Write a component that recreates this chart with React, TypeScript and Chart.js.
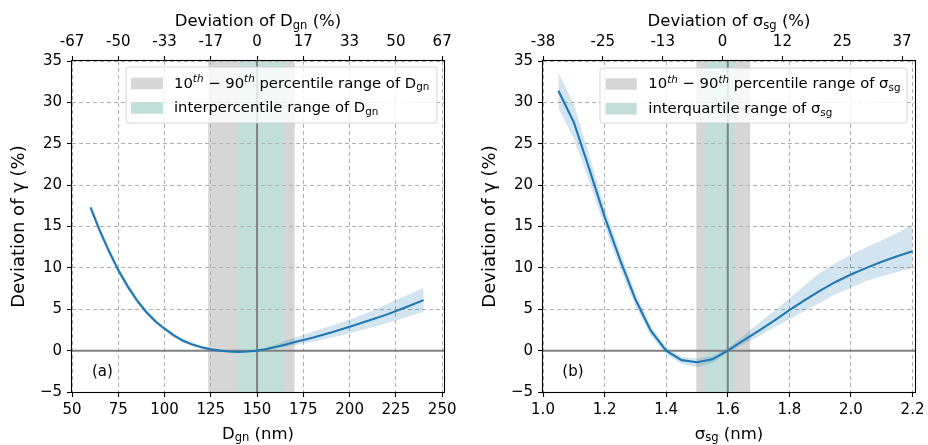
import React, { useEffect, useRef } from 'react';
import { Chart, registerables } from 'chart.js';

Chart.register(...registerables);

const FONT = '"DejaVu Sans", "Liberation Sans", sans-serif';
const FS_TICK = 15;
const FS_LEGEND = 14.8;
const FS_XTITLE = 16.5;
const FS_YTITLE = 18;

// ---------- Panel (a): D_gn ----------
const D_GN = [60, 65, 70, 75, 80, 85, 90, 95, 100, 105, 110, 115, 120, 125, 130, 135, 140, 145, 150, 155, 160, 165, 170, 175, 180, 190, 200, 210, 220, 230, 240];
const GAMMA_A = [17.3, 14.5, 12.0, 9.75, 7.8, 6.1, 4.7, 3.55, 2.65, 1.85, 1.2, 0.75, 0.4, 0.15, 0.0, -0.1, -0.15, -0.1, 0.0, 0.2, 0.45, 0.7, 1.0, 1.28, 1.55, 2.2, 2.9, 3.6, 4.35, 5.2, 6.1];
const GAMMA_A_UPPER = [17.85, 14.95, 12.45, 10.15, 8.2, 6.45, 5.0, 3.85, 2.9, 2.1, 1.45, 0.95, 0.6, 0.32, 0.15, 0.05, 0.0, 0.0, 0.05, 0.35, 0.75, 1.15, 1.55, 1.9, 2.3, 3.0, 3.75, 4.6, 5.6, 6.6, 7.6];
const GAMMA_A_LOWER = [16.8, 14.05, 11.55, 9.35, 7.4, 5.75, 4.4, 3.25, 2.4, 1.6, 0.95, 0.55, 0.2, 0.0, -0.15, -0.25, -0.3, -0.2, -0.05, 0.08, 0.3, 0.45, 0.65, 0.85, 1.05, 1.55, 2.1, 2.7, 3.3, 4.0, 4.7];
const D_TICKS = [50, 75, 100, 125, 150, 175, 200, 225, 250];
const D_LIMITS = [50, 251];
const D_DEV_TICKS = [-66.667, -50, -33.333, -16.667, 0, 16.667, 33.333, 50, 66.667];
const D_DEV_LABELS = ['-67', '-50', '-33', '-17', '0', '17', '33', '50', '67'];
const D_DEV_LIMITS = [-66.667, 67.333];
const D_P10_P90 = [123.6, 170.3];
const D_INTERPERCENTILE = [139.6, 164.4];
const D_REF = 150;

// ---------- Panel (b): sigma_sg ----------
const SIGMA_SG = [1.05, 1.1, 1.15, 1.2, 1.25, 1.3, 1.35, 1.4, 1.45, 1.5, 1.55, 1.6, 1.65, 1.7, 1.75, 1.8, 1.85, 1.9, 1.95, 2.0, 2.05, 2.1, 2.15, 2.2];
const GAMMA_B = [31.4, 27.6, 22.0, 16.2, 11.0, 6.2, 2.4, 0.0, -1.15, -1.4, -1.05, 0.0, 1.2, 2.4, 3.6, 4.9, 6.1, 7.25, 8.3, 9.2, 10.0, 10.75, 11.4, 12.0];
const GAMMA_B_UPPER = [33.6, 29.8, 23.6, 17.4, 12.0, 7.0, 3.0, 0.4, -0.75, -0.95, -0.65, 0.3, 1.8, 3.3, 4.8, 6.3, 7.9, 9.4, 10.6, 11.6, 12.5, 13.3, 14.2, 15.2];
const GAMMA_B_LOWER = [29.3, 25.6, 20.4, 15.0, 10.0, 5.4, 1.8, -0.5, -1.6, -2.0, -1.5, -0.25, 0.75, 1.7, 2.8, 3.8, 4.8, 5.8, 6.8, 7.6, 8.4, 9.0, 9.5, 10.0];
const SIGMA_TICKS = [1.0, 1.2, 1.4, 1.6, 1.8, 2.0, 2.2];
const SIGMA_LIMITS = [1.0, 2.208];
const SIGMA_DEV_TICKS = [-37.5, -25, -12.5, 0, 12.5, 25, 37.5];
const SIGMA_DEV_LABELS = ['-38', '-25', '-13', '0', '12', '25', '37'];
const SIGMA_DEV_LIMITS = [-37.5, 40.2];
const SIGMA_P10_P90 = [1.498, 1.673];
const SIGMA_IQR = [1.528, 1.623];
const SIGMA_REF = 1.6;

// ---------- shared y ----------
const Y_TICKS = [-5, 0, 5, 10, 15, 20, 25, 30, 35];
const Y_LIMITS = [-5, 35];

const BLUE = '#1f77b4';
const BAND = 'rgba(31,119,180,0.2)';
const GRAY_SPAN = 'rgb(214,214,214)';
const TEAL_SPAN = 'rgb(193,223,216)';
const GRID = '#b0b0b0';
const REF_LINE = '#808080';

type Seg = { t: string; k?: 'sup' | 'sub'; it?: boolean };

function segFont(s: Seg, size: number) {
  const sz = s.k ? size * 0.7 : size;
  return `${s.it ? 'italic ' : ''}${sz}px ${FONT}`;
}
function richWidth(ctx: CanvasRenderingContext2D, segs: Seg[], size: number) {
  let w = 0;
  for (const s of segs) {
    ctx.font = segFont(s, size);
    w += ctx.measureText(s.t).width;
  }
  return w;
}
function drawRich(ctx: CanvasRenderingContext2D, segs: Seg[], x: number, y: number, size: number, align: 'left' | 'center') {
  const w = richWidth(ctx, segs, size);
  let cx = align === 'center' ? x - w / 2 : x;
  ctx.textAlign = 'left';
  ctx.textBaseline = 'alphabetic';
  ctx.fillStyle = '#000';
  for (const s of segs) {
    ctx.font = segFont(s, size);
    const dy = s.k === 'sup' ? -0.37 * size : s.k === 'sub' ? 0.16 * size : 0;
    ctx.fillText(s.t, cx, y + dy);
    cx += ctx.measureText(s.t).width;
  }
}

interface PanelCfg {
  left: number;
  yAxisWidth: number;
  padRight: number;
  xs: number[];
  mean: number[];
  upper: number[];
  lower: number[];
  xTicks: number[];
  xLimits: number[];
  xFmt: (v: number) => string;
  topTicks: number[];
  topLabels: string[];
  topLimits: number[];
  outer: number[];
  inner: number[];
  ref: number;
  sym: string;
  sub: string;
  innerName: string;
  yTitleX: number;
  legend: { x: number; y: number; w: number; h: number; px: number; pw: number; ph: number; rows: number[]; tx: number; base: number[] };
  label: string;
  labelX: number;
}

const PANELS: PanelCfg[] = [
  {
    left: 0,
    yAxisWidth: 72,
    padRight: 20,
    xs: D_GN,
    mean: GAMMA_A,
    upper: GAMMA_A_UPPER,
    lower: GAMMA_A_LOWER,
    xTicks: D_TICKS,
    xLimits: D_LIMITS,
    xFmt: (v) => String(v),
    topTicks: D_DEV_TICKS,
    topLabels: D_DEV_LABELS,
    topLimits: D_DEV_LIMITS,
    outer: D_P10_P90,
    inner: D_INTERPERCENTILE,
    ref: D_REF,
    sym: 'D',
    sub: 'gn',
    innerName: 'interpercentile',
    yTitleX: 24,
    legend: { x: 126, y: 67, w: 311, h: 56, px: 131, pw: 32, ph: 11.6, rows: [83.5, 108], tx: 174, base: [87.5, 112.3] },
    label: '(a)',
    labelX: 92,
  },
  {
    left: 464,
    yAxisWidth: 79,
    padRight: 13,
    xs: SIGMA_SG,
    mean: GAMMA_B,
    upper: GAMMA_B_UPPER,
    lower: GAMMA_B_LOWER,
    xTicks: SIGMA_TICKS,
    xLimits: SIGMA_LIMITS,
    xFmt: (v) => v.toFixed(1),
    topTicks: SIGMA_DEV_TICKS,
    topLabels: SIGMA_DEV_LABELS,
    topLimits: SIGMA_DEV_LIMITS,
    outer: SIGMA_P10_P90,
    inner: SIGMA_IQR,
    ref: SIGMA_REF,
    sym: 'σ',
    sub: 'sg',
    innerName: 'interquartile',
    yTitleX: 31,
    legend: { x: 136, y: 68, w: 307, h: 55, px: 141.7, pw: 31, ph: 11.6, rows: [84, 108.8], tx: 184.3, base: [88.3, 113.3] },
    label: '(b)',
    labelX: 98.3,
  },
];

function Panel({ cfg }: { cfg: PanelCfg }) {
  const ref = useRef<HTMLCanvasElement>(null);

  useEffect(() => {
    const c = cfg;
    const pts = (ys: number[]) => c.xs.map((x, i) => ({ x, y: ys[i] }));
    const font = { family: FONT, size: FS_TICK };

    const decor = {
      id: 'decor',
      beforeDraw(chart: any) {
        const { ctx, chartArea: a, scales } = chart;
        const x = scales.x;
        ctx.save();
        const span = (r: number[], col: string) => {
          const x1 = x.getPixelForValue(r[0]);
          const x2 = x.getPixelForValue(r[1]);
          ctx.fillStyle = col;
          ctx.fillRect(x1, a.top, x2 - x1, a.bottom - a.top);
        };
        span(c.outer, GRAY_SPAN);
        span(c.inner, TEAL_SPAN);
        ctx.restore();
      },
      afterDatasetsDraw(chart: any) {
        const { ctx, chartArea: a } = chart;
        ctx.save();
        ctx.strokeStyle = '#000';
        ctx.lineWidth = 1.1;
        ctx.strokeRect(a.left - 0.5, a.top - 0.5, a.right - a.left + 1, a.bottom - a.top + 1);
        ctx.restore();
      },
      afterDraw(chart: any) {
        const { ctx, chartArea: a } = chart;
        ctx.save();
        const cx = (a.left + a.right) / 2;
        drawRich(ctx, [{ t: c.sym }, { t: c.sub, k: 'sub' }, { t: ' (nm)' }], cx, 438.5, FS_XTITLE, 'center');
        drawRich(ctx, [{ t: 'Deviation of ' + c.sym }, { t: c.sub, k: 'sub' }, { t: ' (%)' }], cx, 26, FS_XTITLE, 'center');
        ctx.save();
        ctx.translate(c.yTitleX, (a.top + a.bottom) / 2);
        ctx.rotate(-Math.PI / 2);
        drawRich(ctx, [{ t: 'Deviation of γ (%)' }], 0, 0, FS_YTITLE, 'center');
        ctx.restore();
        drawRich(ctx, [{ t: c.label }], c.labelX, 376, FS_TICK, 'left');
        const L = c.legend;
        const r = 3;
        ctx.beginPath();
        ctx.moveTo(L.x + r, L.y);
        ctx.lineTo(L.x + L.w - r, L.y);
        ctx.arcTo(L.x + L.w, L.y, L.x + L.w, L.y + r, r);
        ctx.lineTo(L.x + L.w, L.y + L.h - r);
        ctx.arcTo(L.x + L.w, L.y + L.h, L.x + L.w - r, L.y + L.h, r);
        ctx.lineTo(L.x + r, L.y + L.h);
        ctx.arcTo(L.x, L.y + L.h, L.x, L.y + L.h - r, r);
        ctx.lineTo(L.x, L.y + r);
        ctx.arcTo(L.x, L.y, L.x + r, L.y, r);
        ctx.closePath();
        ctx.fillStyle = 'rgba(255,255,255,0.8)';
        ctx.fill();
        ctx.strokeStyle = 'rgba(204,204,204,0.8)';
        ctx.lineWidth = 1;
        ctx.stroke();
        ctx.fillStyle = GRAY_SPAN;
        ctx.fillRect(L.px, L.rows[0] - L.ph / 2, L.pw, L.ph);
        ctx.fillStyle = TEAL_SPAN;
        ctx.fillRect(L.px, L.rows[1] - L.ph / 2, L.pw, L.ph);
        drawRich(
          ctx,
          [
            { t: '10' },
            { t: 'th', k: 'sup', it: true },
            { t: ' − 90' },
            { t: 'th', k: 'sup', it: true },
            { t: ' percentile range of ' + c.sym },
            { t: c.sub, k: 'sub' },
          ],
          L.tx,
          L.base[0],
          FS_LEGEND,
          'left'
        );
        drawRich(ctx, [{ t: c.innerName + ' range of ' + c.sym }, { t: c.sub, k: 'sub' }], L.tx, L.base[1], FS_LEGEND, 'left');
        ctx.restore();
      },
    };

    const chart = new Chart(ref.current as HTMLCanvasElement, {
      type: 'scatter',
      data: {
        datasets: [
          { data: pts(c.mean), borderColor: BLUE, borderWidth: 2.1, showLine: true, pointRadius: 0, tension: 0, order: 0 } as any,
          {
            data: [
              { x: c.xLimits[0], y: 0 },
              { x: c.xLimits[1], y: 0 },
            ],
            borderColor: REF_LINE,
            borderWidth: 2,
            showLine: true,
            pointRadius: 0,
            order: 1,
          },
          {
            data: [
              { x: c.ref, y: Y_LIMITS[0] },
              { x: c.ref, y: Y_LIMITS[1] },
            ],
            borderColor: REF_LINE,
            borderWidth: 2,
            showLine: true,
            pointRadius: 0,
            order: 1,
          },
          { data: pts(c.upper), borderColor: 'transparent', borderWidth: 1, showLine: true, pointRadius: 0, fill: false, order: 3 },
          { data: pts(c.lower), borderColor: 'transparent', borderWidth: 1, showLine: true, pointRadius: 0, fill: 3, backgroundColor: BAND, order: 2 } as any,
        ],
      },
      options: {
        animation: false,
        responsive: false,
        events: [],
        layout: { padding: { left: 0, right: c.padRight, top: 0, bottom: 0 } },
        plugins: { legend: { display: false }, tooltip: { enabled: false } },
        scales: {
          x: {
            type: 'linear',
            position: 'bottom',
            min: c.xLimits[0],
            max: c.xLimits[1],
            afterBuildTicks: (s: any) => {
              s.ticks = c.xTicks.map((v) => ({ value: v }));
            },
            afterFit: (s: any) => {
              s.height = 53;
              s.paddingLeft = 0;
              s.paddingRight = 0;
            },
            ticks: { callback: (v: any) => c.xFmt(Number(v)), font, color: '#000', padding: 4, maxRotation: 0, autoSkip: false },
            grid: { color: GRID, lineWidth: 1, tickColor: '#000', tickLength: 5, tickWidth: 1.1 },
            border: { display: false, dash: [4, 3] },
          },
          x2: {
            type: 'linear',
            position: 'top',
            min: c.topLimits[0],
            max: c.topLimits[1],
            afterBuildTicks: (s: any) => {
              s.ticks = c.topTicks.map((v) => ({ value: v }));
            },
            afterFit: (s: any) => {
              s.height = 61;
              s.paddingLeft = 0;
              s.paddingRight = 0;
            },
            ticks: { callback: (_v: any, i: number) => c.topLabels[i], font, color: '#000', padding: 5, maxRotation: 0, autoSkip: false },
            grid: { drawOnChartArea: false, tickColor: '#000', tickLength: 5, tickWidth: 1.1 },
            border: { display: false },
          },
          y: {
            type: 'linear',
            position: 'left',
            min: Y_LIMITS[0],
            max: Y_LIMITS[1],
            afterBuildTicks: (s: any) => {
              s.ticks = Y_TICKS.map((v) => ({ value: v }));
            },
            afterFit: (s: any) => {
              s.width = c.yAxisWidth;
              s.paddingTop = 0;
              s.paddingBottom = 0;
            },
            ticks: {
              callback: (v: any) => (Number(v) < 0 ? '\u2212' + Math.abs(Number(v)) : String(v)),
              font,
              color: '#000',
              padding: 5,
              autoSkip: false,
            },
            grid: { color: GRID, lineWidth: 1, tickColor: '#000', tickLength: 5, tickWidth: 1.1 },
            border: { display: false, dash: [4, 3] },
          },
        },
      } as any,
      plugins: [decor],
    });
    return () => chart.destroy();
  }, [cfg]);

  return (
    <canvas
      ref={ref}
      width={464}
      height={445}
      style={{ position: 'absolute', left: cfg.left, top: 0, width: 464, height: 445 }}
    />
  );
}

export default function App() {
  return (
    <div style={{ position: 'absolute', left: 0, top: 0, width: 928, height: 445, background: '#fff', overflow: 'hidden' }}>
      {PANELS.map((p, i) => (
        <Panel key={i} cfg={p} />
      ))}
    </div>
  );
}
